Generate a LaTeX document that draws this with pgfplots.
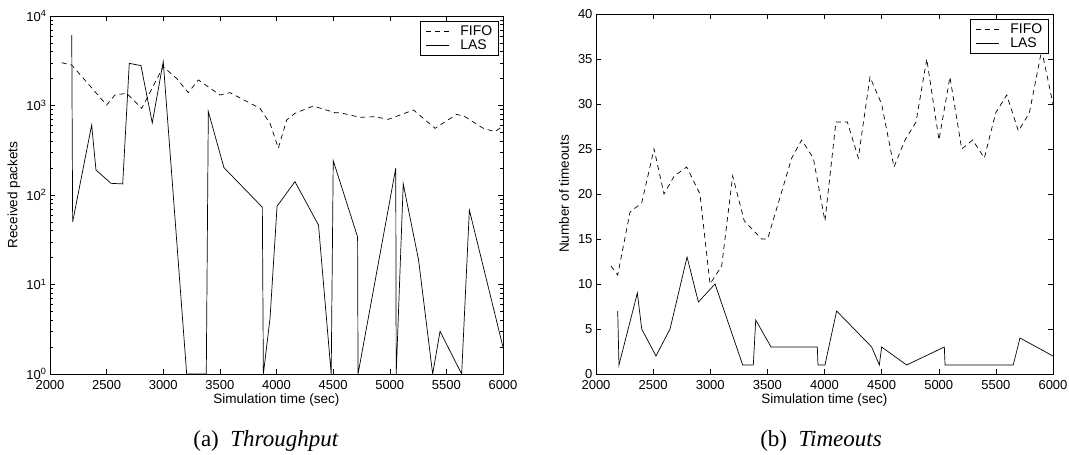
\documentclass[border=0pt]{standalone}
\usepackage{pgfplots}
\pgfplotsset{compat=1.18}
\usepackage{fontspec}
\setmainfont{Liberation Sans}
\newfontfamily\capfont{Liberation Serif}
\begin{document}
\begin{tikzpicture}
\useasboundingbox (0pt,0pt) rectangle (1069pt,455pt);
\coordinate (L) at (50pt,81pt);
\coordinate (R) at (596pt,81pt);
\pgfplotsset{
  myaxis/.style={
    scale only axis,
    xmin=2000, xmax=6000,
    xtick={2000,2500,...,6000},
    tick align=inside,
    major tick length=5pt,
    minor tick length=3pt,
    axis line style={line width=0.8pt},
    every tick/.style={black, line width=0.5pt},
    tick label style={font=\fontsize{13}{15}\selectfont},
    xticklabel style={yshift=-3pt},
    label style={font=\fontsize{13.5}{15}\selectfont},
    /pgf/number format/assume math mode=true,
    xticklabel style={/pgf/number format/1000 sep={}},
    xlabel={Simulation time (sec)},
    xlabel style={at={(axis description cs:0.5,0)}, anchor=base, yshift=-30pt},
    legend style={draw=black, line width=0.6pt, font=\fontsize{14}{16}\selectfont,
      at={(axis description cs:1,1)}, anchor=north east, xshift=-4pt, yshift=-5pt,
      inner xsep=6pt, inner ysep=3pt, row sep=0pt, cells={anchor=west},
      nodes={inner sep=0.5pt, text height=10.5pt, text depth=2.5pt},
      /tikz/every odd column/.append style={column sep=10pt}},
    legend image code/.code={\draw[##1] (0pt,0pt) -- (23pt,0pt);},
  },
  fifo/.style={black, no marks, line width=0.7pt, dash pattern=on 5pt off 4pt},
  las/.style={black, no marks, line width=0.7pt},
}
\begin{axis}[myaxis, at={(L)}, anchor=south west, width=453pt, height=358pt,
  ymode=log, ymin=1, ymax=10000,
  ytick={1,10,100,1000,10000},
  yticklabels={10\textsuperscript{0},10\textsuperscript{1},10\textsuperscript{2},10\textsuperscript{3},10\textsuperscript{4}},
  minor ytick={2,3,4,5,6,7,8,9,20,30,40,50,60,70,80,90,200,300,400,500,600,700,800,900,2000,3000,4000,5000,6000,7000,8000,9000},
  ylabel={Received packets},
  ylabel style={at={(axis description cs:0,0.5)}, anchor=center, yshift=36pt}]
\addplot[fifo] coordinates {
(2103,3006) (2192,2830) (2500,1013) (2574,1310) (2677,1370) (2810,930)
(3000,2715) (3119,2000) (3221,1390) (3310,1930) (3501,1310) (3589,1390)
(3854,930) (3943,630) (4016,333) (4090,689) (4163,818) (4325,987)
(4517,831) (4561,831) (4737,738) (4870,750) (4988,700) (5210,891)
(5400,556) (5591,796) (5664,750) (5826,556) (5929,510) (6000,590)};
\addlegendentry{FIFO}
\addplot[las] coordinates {
(2192,6130) (2200,50) (2368,606) (2406,190) (2539,135) (2642,133)
(2700,2960) (2803,2790) (2903,640) (3000,3090) (3207,1) (3380,1)
(3398,855) (3536,202) (3875,73) (3884,1) (3943,4.2) (4005,75)
(4163,141) (4371,46) (4483,1) (4501,242) (4716,34) (4720,1)
(5053,199) (5057,1) (5119,133) (5254,19) (5379,1) (5444,3)
(5635,1) (5703,68) (6000,2)};
\addlegendentry{LAS}
\end{axis}
\begin{axis}[myaxis, at={(R)}, anchor=south west, width=457pt, height=360pt,
  ymin=0, ymax=40, ytick={0,5,...,40},
  ylabel={Number of timeouts},
  ylabel style={at={(axis description cs:0,0.5)}, anchor=center, yshift=32pt}]
\addplot[fifo] coordinates {
(2131,12) (2190,11) (2298,18) (2400,19) (2508,25) (2595,20) (2685,22)
(2794,23) (2910,20) (2998,10) (3100,12) (3196,22) (3298,17) (3450,15)
(3502,15) (3713,24) (3800,26) (3902,24) (4004,17) (4100,28) (4200,28)
(4296,24) (4398,33) (4500,30) (4608,23) (4705,26) (4801,28) (4895,35)
(5002,26) (5098,33) (5201,25) (5297,26) (5399,24) (5498,29) (5595,31)
(5697,27) (5793,29) (5901,36) (6000,30)};
\addlegendentry{FIFO}
\addplot[las] coordinates {
(2190,7) (2201,1) (2362,9) (2400,5) (2525,2) (2648,5) (2797,13)
(2896,8) (3042,10) (3284,1) (3377,1) (3398,6) (3532,3) (3937,3)
(3943,1) (4004,1) (4106,7) (4413,3) (4480,1) (4500,3) (4719,1)
(5049,3) (5055,1) (5652,1) (5711,4) (6000,2)};
\addlegendentry{LAS}
\end{axis}
\node[font=\capfont\fontsize{23}{26}\selectfont, anchor=base] at (266pt,8pt) {(a)\hspace{0.5em}\textit{Throughput}};
\node[font=\capfont\fontsize{23}{26}\selectfont, anchor=base] at (821pt,8pt) {(b)\hspace{0.5em}\textit{Timeouts}};
\end{tikzpicture}
\end{document}
